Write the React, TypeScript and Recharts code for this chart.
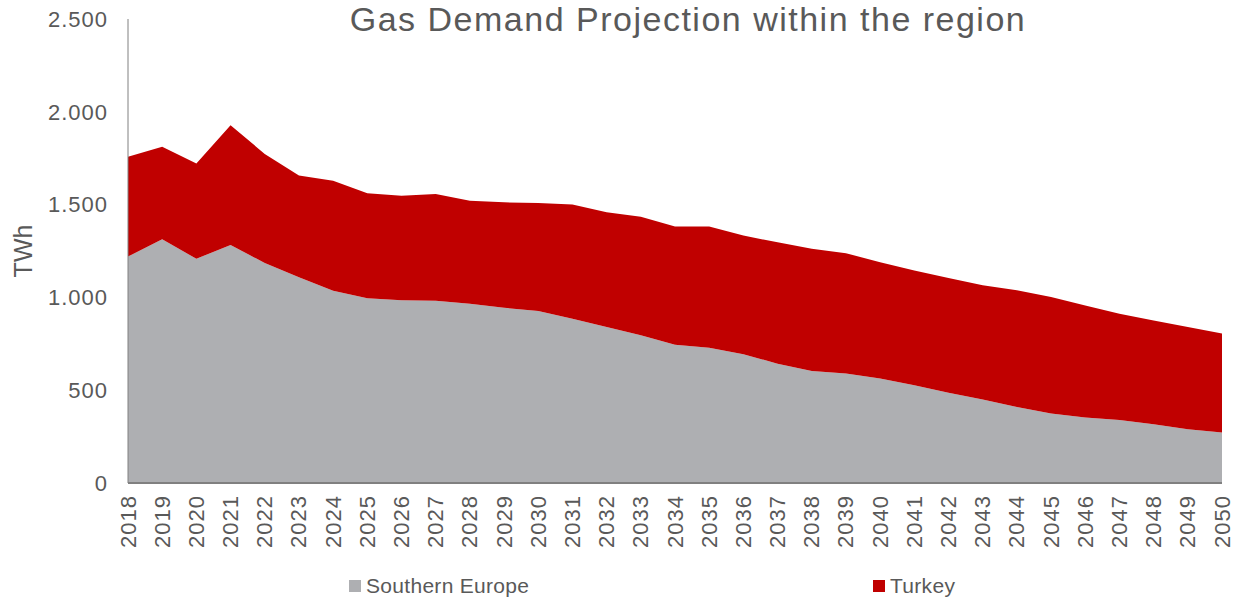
import React from 'react';
import { AreaChart, Area, XAxis, YAxis, Legend } from 'recharts';

const years = [
  '2018', '2019', '2020', '2021', '2022', '2023', '2024', '2025', '2026', '2027', '2028',
  '2029', '2030', '2031', '2032', '2033', '2034', '2035', '2036', '2037', '2038', '2039',
  '2040', '2041', '2042', '2043', '2044', '2045', '2046', '2047', '2048', '2049', '2050',
];

const southernEurope = [
  1220, 1313, 1208, 1283, 1185, 1108, 1036, 995, 984, 982, 966,
  944, 927, 885, 840, 796, 745, 729, 694, 643, 604, 590,
  563, 527, 486, 450, 410, 375, 353, 339, 317, 289, 272,
];

const turkey = [
  538, 499, 514, 645, 588, 549, 593, 566, 564, 575, 555,
  568, 582, 615, 619, 639, 637, 653, 639, 654, 658, 648,
  627, 618, 618, 615, 628, 627, 604, 573, 559, 551, 533,
];

const yTicks = [0, 500, 1000, 1500, 2000, 2500];

const seriesNames = { se: 'Southern Europe', tr: 'Turkey' };
const colors = { se: '#AEAFB2', tr: '#C00000' };

const data = years.map((year, i) => ({ year, se: southernEurope[i], tr: turkey[i] }));

const font = '"Liberation Sans", Arial, sans-serif';
const textGray = '#595959';

// dots as thousands separator, like the source
const fmt = (v: number) => String(v).replace(/\B(?=(\d{3})+(?!\d))/g, '.');

const YearTick = ({ x, y, payload }: any) => (
  <text
    x={x}
    y={y}
    transform={`rotate(-90 ${x} ${y})`}
    textAnchor="end"
    dominantBaseline="central"
    fill={textGray}
    fontSize={22}
    letterSpacing={1}
    fontFamily={font}
  >
    {payload.value}
  </text>
);

const legendSpots: Record<string, number> = { se: 349, tr: 873 };

const LegendBox = ({ payload }: any) => (
  <div style={{ position: 'relative', width: 1235, height: 46, fontFamily: font }}>
    {(payload || []).map((p: any) => (
      <div
        key={p.dataKey}
        style={{ position: 'absolute', left: legendSpots[p.dataKey], top: 25, display: 'flex', alignItems: 'center' }}
      >
        <span style={{ width: 12, height: 12, background: p.color, display: 'inline-block', marginRight: 5 }} />
        <span style={{ fontSize: 21, letterSpacing: 0.3, color: textGray, lineHeight: '16px' }}>{p.value}</span>
      </div>
    ))}
  </div>
);

export default function App() {
  return (
    <div style={{ position: 'absolute', left: 0, top: 0, width: 1235, height: 599, background: '#fff' }}>
      <div
        style={{
          position: 'absolute',
          left: 688,
          top: 0,
          transform: 'translateX(-50%)',
          whiteSpace: 'nowrap',
          fontFamily: font,
          fontSize: 34,
          lineHeight: '38px',
          letterSpacing: 1.5,
          color: textGray,
          zIndex: 2,
        }}
      >
        Gas Demand Projection within the region
      </div>
      <AreaChart width={1235} height={599} data={data} margin={{ top: 19, right: 13, left: 0, bottom: 0 }}>
        <XAxis
          dataKey="year"
          tick={<YearTick />}
          tickLine={false}
          tickSize={0}
          tickMargin={12}
          interval={0}
          height={70}
          axisLine={{ stroke: '#808080', strokeWidth: 2 }}
        />
        <YAxis
          width={128}
          domain={[0, 2500]}
          ticks={yTicks}
          tickFormatter={fmt}
          tickLine={false}
          tickSize={0}
          tickMargin={20}
          axisLine={{ stroke: '#808080', strokeWidth: 1 }}
          tick={{ fill: textGray, fontSize: 22, letterSpacing: 1, fontFamily: font }}
          label={{
            value: 'TWh',
            angle: -90,
            position: 'insideLeft',
            offset: 23,
            style: { textAnchor: 'middle', fill: textGray, fontSize: 25, fontFamily: font },
          }}
        />
        <Legend verticalAlign="bottom" content={<LegendBox />} wrapperStyle={{ left: 0, bottom: 0 }} />
        <Area
          type="linear"
          dataKey="se"
          name={seriesNames.se}
          stackId="gas"
          stroke="none"
          fill={colors.se}
          fillOpacity={1}
          isAnimationActive={false}
        />
        <Area
          type="linear"
          dataKey="tr"
          name={seriesNames.tr}
          stackId="gas"
          stroke="none"
          fill={colors.tr}
          fillOpacity={1}
          isAnimationActive={false}
        />
      </AreaChart>
    </div>
  );
}
